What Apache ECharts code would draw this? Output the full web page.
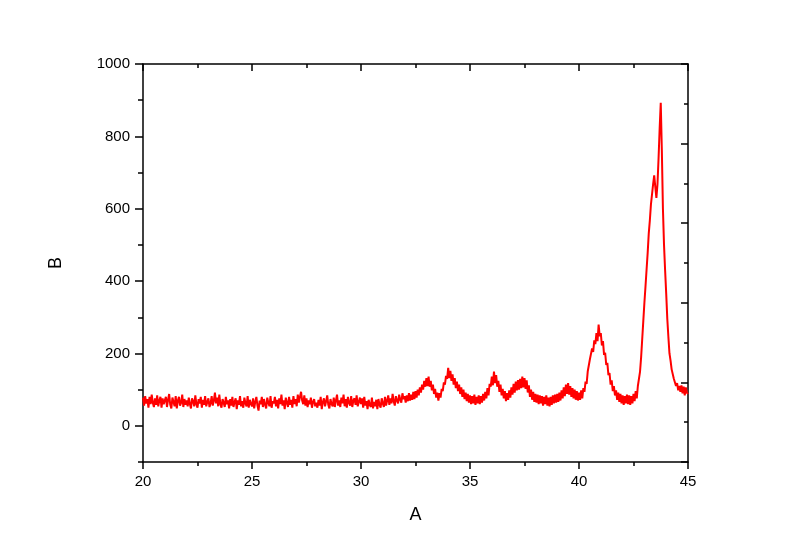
<!DOCTYPE html>
<html>
<head>
<meta charset="utf-8">
<script src="https://cdn.jsdelivr.net/npm/echarts@6.0.0/dist/echarts.min.js"></script>
<style>
  html, body { margin: 0; padding: 0; background: #fff; }
  #chart { width: 800px; height: 554px; }
</style>
</head>
<body>
<div id="chart"></div>
<script>
// sampling grid of the scan (A)
const xStart = 20;
const xStep = 0.05;

// intensity (B), one row per degree: 20.00 ... 20.95, 21.00 ... 21.95, ...
const intensity = [
  78, 56, 82, 62, 74, 50, 80, 60, 86, 64, 52, 76, 58, 84, 54, 70, 80, 50, 76, 60,
  56, 80, 52, 72, 88, 58, 48, 78, 66, 54, 82, 48, 70, 80, 56, 64, 86, 52, 74, 58,
  70, 54, 78, 60, 48, 76, 68, 54, 84, 60, 50, 74, 62, 80, 50, 72, 58, 82, 54, 66,
  76, 52, 62, 82, 56, 70, 92, 62, 78, 54, 86, 60, 50, 74, 64, 52, 80, 60, 70, 48,
  74, 56, 80, 52, 66, 76, 46, 70, 58, 82, 54, 68, 50, 78, 62, 54, 82, 50, 72, 60,
  54, 76, 48, 66, 80, 56, 42, 70, 60, 80, 52, 74, 58, 48, 78, 64, 54, 82, 50, 68,
  62, 80, 54, 72, 48, 76, 60, 86, 56, 70, 46, 78, 64, 52, 80, 58, 72, 50, 82, 60,
  74, 54, 86, 64, 80, 94, 70, 60, 84, 56, 76, 52, 70, 60, 78, 50, 66, 74, 54, 64,
  50, 72, 56, 80, 46, 66, 76, 54, 68, 84, 58, 48, 74, 60, 54, 78, 52, 70, 86, 56,
  70, 52, 78, 62, 86, 54, 74, 50, 80, 64, 56, 82, 52, 70, 76, 58, 84, 54, 66, 78,
  60, 76, 50, 80, 56, 68, 46, 72, 58, 52, 78, 48, 66, 54, 72, 46, 74, 58, 50, 76,
  62, 52, 80, 56, 70, 84, 58, 76, 62, 88, 68, 56, 82, 70, 62, 86, 72, 64, 90, 74,
  82, 64, 84, 68, 90, 70, 86, 72, 94, 74, 96, 78, 100, 84, 106, 92, 114, 100, 124, 108,
  132, 110, 136, 108, 124, 98, 114, 88, 102, 78, 92, 70, 90, 78, 102, 96, 120, 114, 138, 130,
  160, 132, 152, 124, 142, 114, 132, 104, 122, 96, 114, 88, 106, 80, 100, 74, 92, 68, 88, 64,
  84, 60, 82, 62, 86, 58, 80, 62, 84, 60, 82, 64, 88, 70, 94, 76, 104, 84, 116, 108,
  136, 112, 150, 118, 140, 108, 124, 94, 114, 84, 102, 76, 96, 68, 90, 72, 98, 78, 106, 86,
  116, 92, 122, 98, 126, 100, 130, 104, 136, 106, 132, 102, 126, 92, 112, 80, 100, 72, 94, 66,
  88, 64, 86, 60, 84, 62, 82, 56, 80, 60, 84, 56, 78, 54, 80, 58, 84, 62, 86, 64,
  88, 66, 92, 70, 98, 76, 106, 82, 114, 88, 118, 86, 110, 80, 104, 76, 100, 72, 96, 70,
  92, 72, 98, 76, 104, 94, 122, 116, 150, 146, 184, 180, 214, 204, 236, 226, 256, 234, 280, 248,
  256, 222, 234, 196, 202, 168, 174, 140, 146, 114, 126, 96, 110, 84, 98, 72, 92, 66, 88, 62,
  84, 58, 82, 62, 86, 60, 84, 58, 82, 62, 88, 68, 96, 76, 110, 114, 150, 190, 240, 290,
  340, 385, 432, 478, 532, 568, 612, 640, 668, 692, 660, 630, 668, 740, 822, 893, 762, 600, 500, 430,
  366, 296, 246, 200, 180, 156, 152, 130, 132, 110, 118, 98, 110, 94, 112, 90, 108, 84, 106, 92,
  88
];

const xMajorTicks = [20, 25, 30, 35, 40, 45];
const yLabelTicks = [0, 200, 400, 600, 800, 1000];
const yMinorTicks = [-100, 100, 300, 500, 700, 900];

const data = intensity.map((v, i) => [+(xStart + i * xStep).toFixed(2), v]);

const chart = echarts.init(document.getElementById("chart"));

const lineStyle = { color: "#000", width: 1.5 };
const font = "Liberation Sans, Arial, sans-serif";

const option = {
  animation: false,
  backgroundColor: "#fff",
  grid: { left: 143, right: 112, top: 64, bottom: 92 },
  xAxis: [
    {
      type: "value",
      position: "bottom",
      min: 20,
      max: 45,
      interval: 5,
      name: "A",
      nameLocation: "middle",
      nameGap: 44,
      nameTextStyle: { fontSize: 18, color: "#000", fontFamily: font },
      axisLine: { show: true, onZero: false, lineStyle },
      axisTick: { show: true, length: 7, lineStyle },
      minorTick: { show: true, splitNumber: 2, length: 4, lineStyle },
      axisLabel: {
        color: "#000",
        fontSize: 15,
        fontFamily: font,
        margin: 12,
        customValues: xMajorTicks,
        formatter: (v) => String(v),
      },
      splitLine: { show: false },
    },
    {
      type: "value",
      position: "top",
      min: 20,
      max: 45,
      interval: 5,
      axisLine: { show: true, onZero: false, lineStyle },
      axisTick: { show: true, inside: true, length: 7, lineStyle },
      minorTick: { show: true, splitNumber: 2, length: 4, lineStyle },
      axisLabel: { show: false },
      splitLine: { show: false },
    },
  ],
  yAxis: [
    {
      type: "value",
      position: "left",
      min: -100,
      max: 1000,
      name: "B",
      nameLocation: "middle",
      nameGap: 78,
      nameRotate: 90,
      nameTextStyle: { fontSize: 18, color: "#000", fontFamily: font },
      axisLine: { show: true, onZero: false, lineStyle },
      axisTick: { show: true, length: 8, lineStyle, customValues: yLabelTicks },
      axisLabel: {
        color: "#000",
        fontSize: 15,
        fontFamily: font,
        margin: 13,
        customValues: yLabelTicks,
        formatter: (v) => String(v),
      },
      splitLine: { show: false },
    },
    {
      type: "value",
      position: "left",
      min: -100,
      max: 1000,
      axisLine: { show: false },
      axisTick: { show: true, length: 5, lineStyle, customValues: yMinorTicks },
      axisLabel: { show: false, customValues: yMinorTicks },
      splitLine: { show: false },
    },
    {
      type: "value",
      position: "right",
      min: 0,
      max: 10,
      interval: 2,
      axisLine: { show: true, onZero: false, lineStyle },
      axisTick: { show: true, inside: true, length: 7, lineStyle },
      minorTick: { show: true, splitNumber: 2, length: 4, lineStyle },
      axisLabel: { show: false },
      splitLine: { show: false },
    },
  ],
  series: [
    {
      type: "line",
      xAxisIndex: 0,
      yAxisIndex: 0,
      data,
      showSymbol: false,
      symbol: "none",
      lineStyle: { color: "#ff0000", width: 2 },
      z: 1,
    },
  ],
};

chart.setOption(option);
</script>
</body>
</html>
